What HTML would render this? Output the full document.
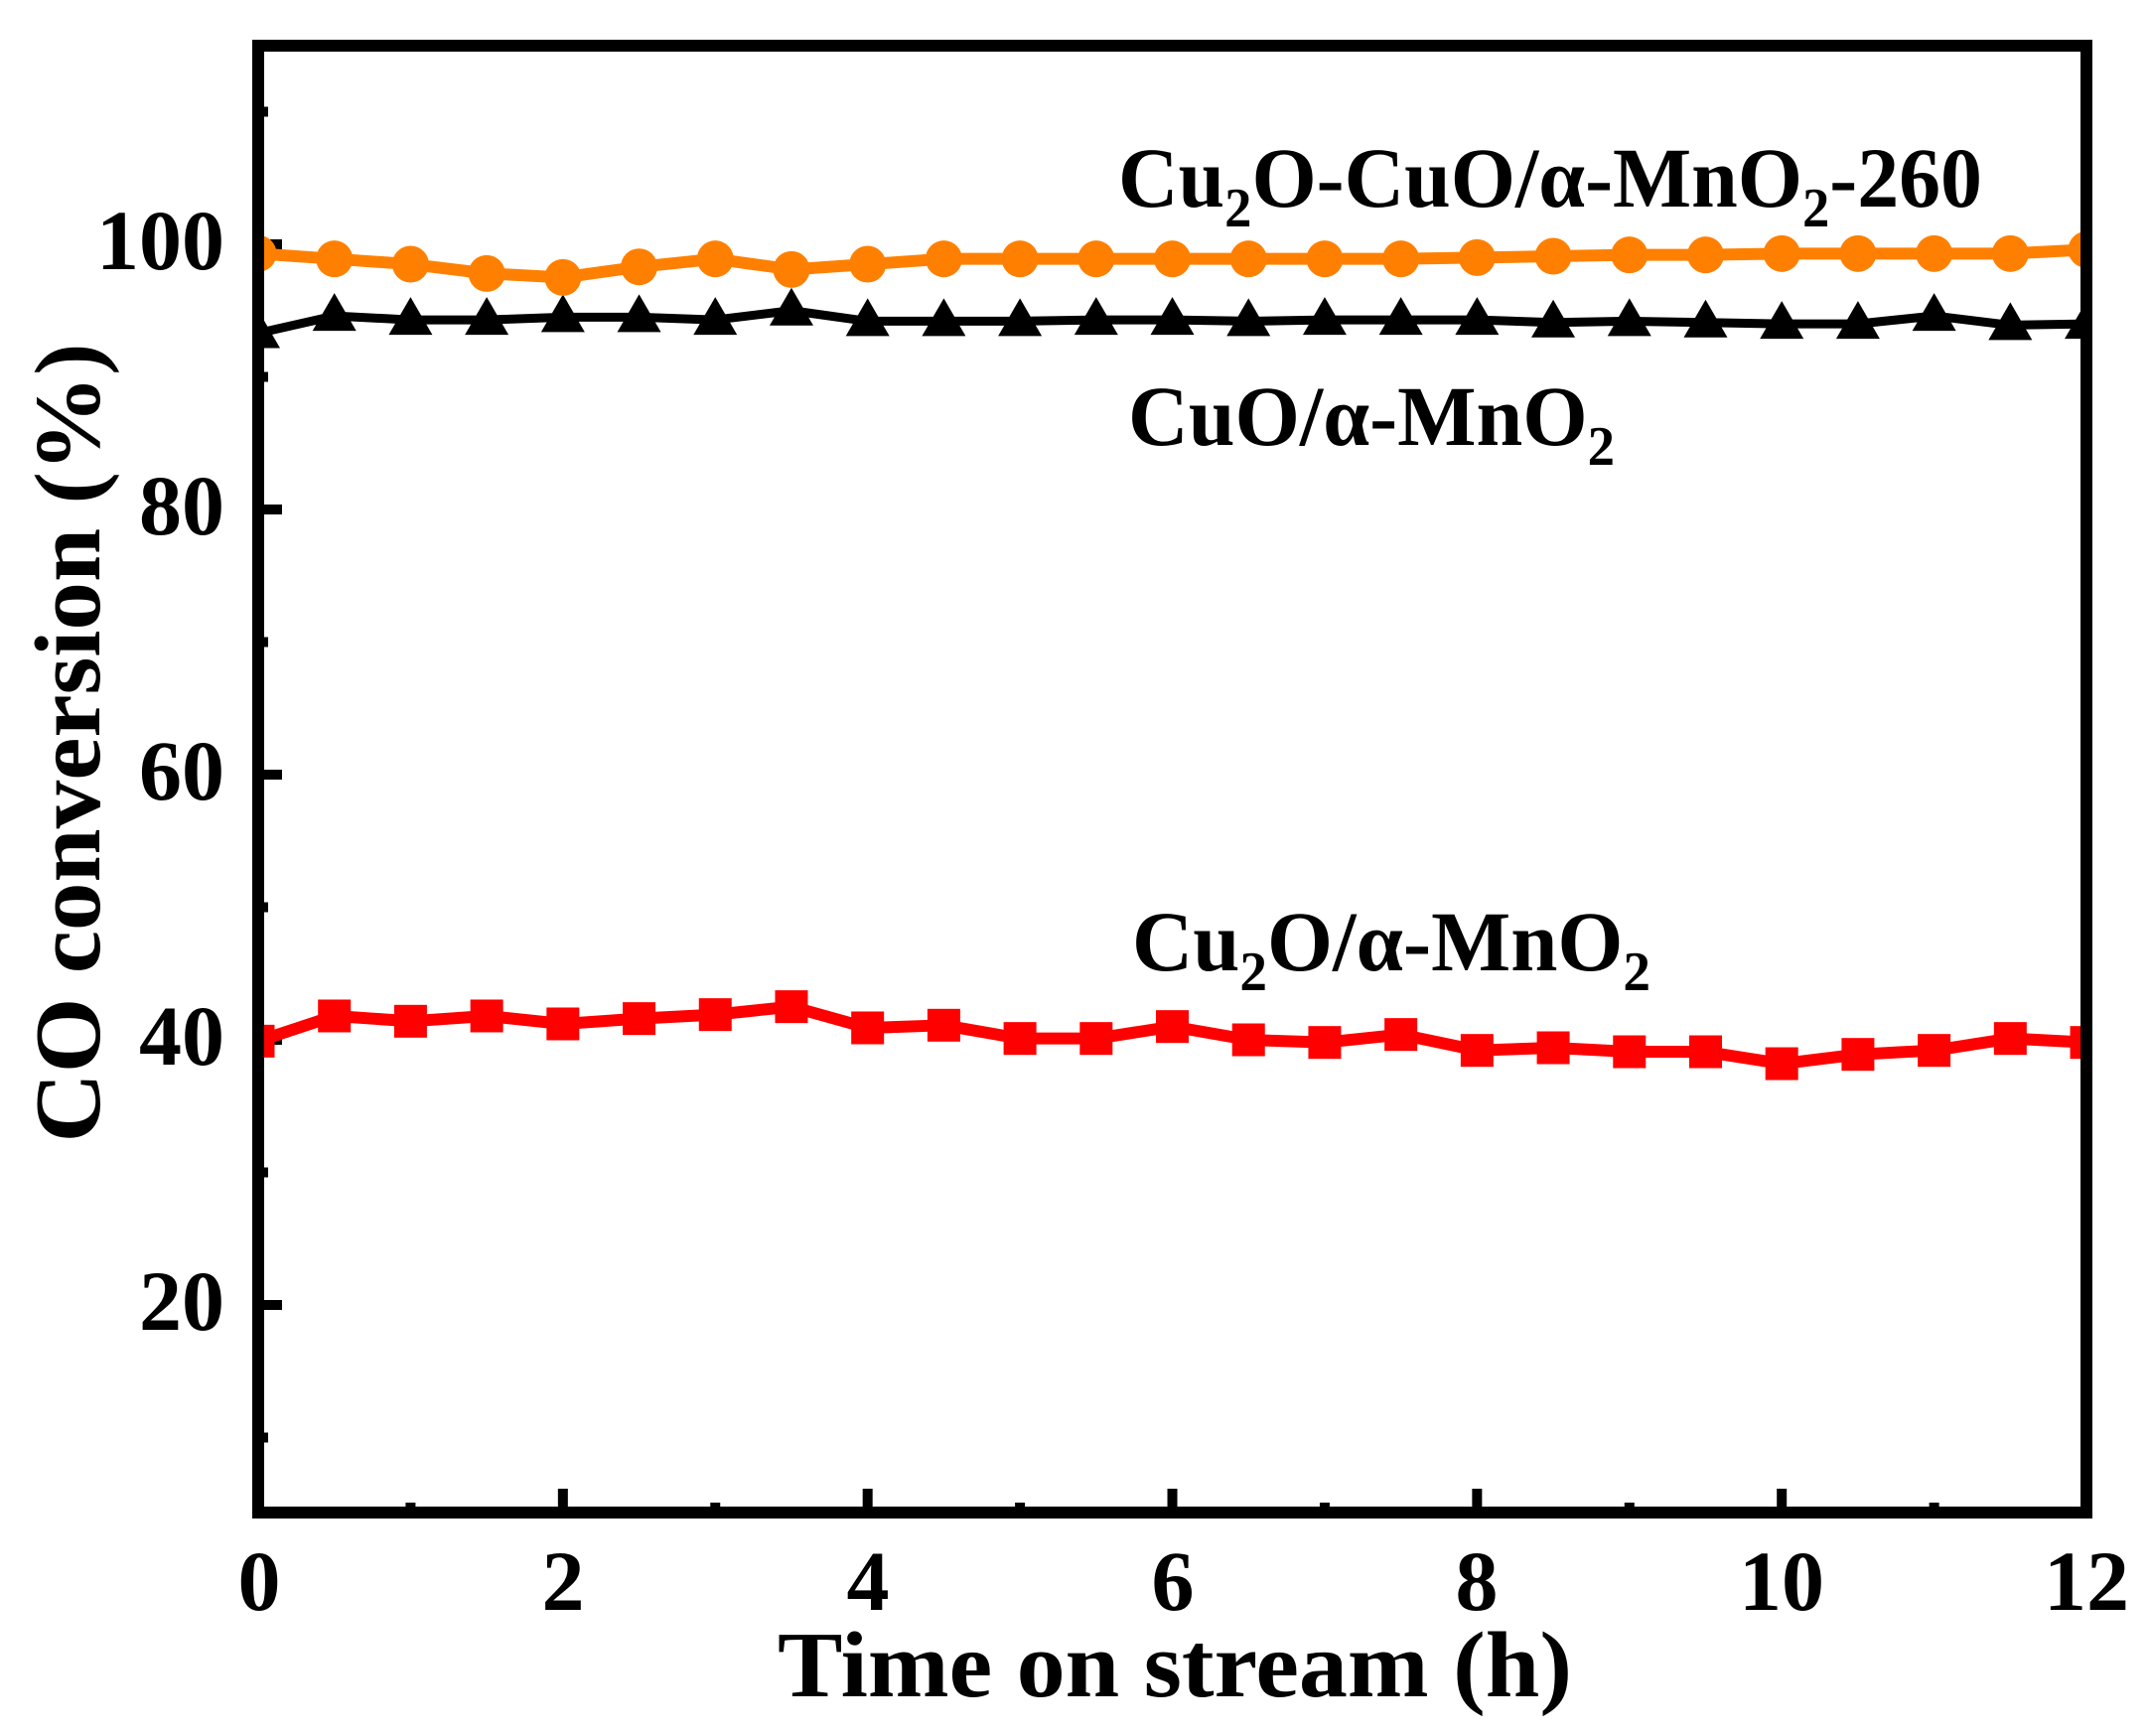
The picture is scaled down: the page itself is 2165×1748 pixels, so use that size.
<!DOCTYPE html>
<html><head><meta charset="utf-8"><style>
html,body{margin:0;padding:0;background:#fff;}
svg{display:block;}
text{font-family:"Liberation Serif",serif;font-weight:bold;fill:#000;}
</style></head><body>
<svg id="s" width="2165" height="1748" viewBox="0 0 2165 1748" xmlns="http://www.w3.org/2000/svg">
<rect x="0" y="0" width="2165" height="1748" fill="#fff"/>
<g id="ticks"></g>
<g id="data"></g>
<rect x="260" y="46" width="1841" height="1477" fill="none" stroke="#000" stroke-width="12"/>
<g font-size="86" text-anchor="end">
<text x="226" y="271">100</text>
<text x="226" y="538">80</text>
<text x="226" y="805">60</text>
<text x="226" y="1072">40</text>
<text x="226" y="1339">20</text>
</g>
<g font-size="86" text-anchor="middle">
<text x="261" y="1621">0</text>
<text x="567" y="1621">2</text>
<text x="874" y="1621">4</text>
<text x="1181" y="1621">6</text>
<text x="1487" y="1621">8</text>
<text x="1794" y="1621">10</text>
<text x="2101" y="1621">12</text>
</g>
<text x="783" y="1708" font-size="94" textLength="800" lengthAdjust="spacingAndGlyphs">Time on stream (h)</text>
<text transform="translate(100,748) rotate(-90)" font-size="94" text-anchor="middle" textLength="805" lengthAdjust="spacingAndGlyphs">CO conversion (%)</text>
<text x="1126" y="208" font-size="86" textLength="870" lengthAdjust="spacingAndGlyphs">Cu<tspan font-size="56" dy="20">2</tspan><tspan dy="-20">O-CuO/α-MnO</tspan><tspan font-size="56" dy="20">2</tspan><tspan dy="-20">-260</tspan></text>
<text x="1136" y="448" font-size="86" textLength="490" lengthAdjust="spacingAndGlyphs">CuO/α-MnO<tspan font-size="56" dy="20">2</tspan></text>
<text x="1140" y="977" font-size="86" textLength="522" lengthAdjust="spacingAndGlyphs">Cu<tspan font-size="56" dy="20">2</tspan><tspan dy="-20">O/α-MnO</tspan><tspan font-size="56" dy="20">2</tspan></text>
</svg>
<script>
var NS="http://www.w3.org/2000/svg";
function X(t){return 260+t*153.42;}
function Y(v){return 1581-v*13.35;}
function el(p,n,a){var e=document.createElementNS(NS,n);for(var k in a)e.setAttribute(k,a[k]);p.appendChild(e);return e;}
var tk=document.getElementById("ticks");
for(var i=1;i<12;i++){var L=(i%2==0)?24:10;el(tk,"line",{x1:X(i),x2:X(i),y1:1523,y2:1523-L,stroke:"#000","stroke-width":10});}
for(var v=10;v<=110;v+=10){var L=(v%20==0)?24:10;el(tk,"line",{x1:260,x2:260+L,y1:Y(v),y2:Y(v),stroke:"#000","stroke-width":10});}
var orange=[99.3,98.9,98.5,97.8,97.5,98.3,98.9,98.1,98.5,98.9,98.9,98.9,98.9,98.9,98.9,98.9,99,99.1,99.2,99.2,99.3,99.3,99.3,99.3,99.6];
var black=[93.3,94.6,94.3,94.3,94.5,94.5,94.3,95,94.2,94.2,94.2,94.3,94.3,94.2,94.3,94.3,94.3,94.1,94.2,94.1,94.0,94.0,94.6,93.9,94.0];
var red=[40.5,42.4,42.0,42.4,41.8,42.2,42.5,43.1,41.5,41.7,40.7,40.7,41.6,40.6,40.4,41.0,39.8,40.0,39.7,39.7,38.8,39.5,39.8,40.7,40.4].map(function(v){return v-0.6;});
var d=document.getElementById("data");
var clip=el(d,"clipPath",{id:"c"});el(clip,"rect",{x:260,y:46,width:1841,height:1477});
var g=el(d,"g",{"clip-path":"url(#c)"});
function line(arr,col,w){el(g,"polyline",{points:arr.map(function(v,i){return X(i*0.5)+","+Y(v);}).join(" "),fill:"none",stroke:col,"stroke-width":w,"stroke-linejoin":"round"});}
line(black,"#000",9);
line(orange,"#ff8000",12);
line(red,"#ff0000",12);
black.forEach(function(v,i){var x=X(i*0.5),y=Y(v);el(g,"polygon",{points:(x-22)+","+(y+15)+" "+(x+22)+","+(y+15)+" "+x+","+(y-23),fill:"#000"});});
orange.forEach(function(v,i){el(g,"circle",{cx:X(i*0.5),cy:Y(v),r:18.5,fill:"#ff8000"});});
red.forEach(function(v,i){el(g,"rect",{x:X(i*0.5)-16.5,y:Y(v)-16.5,width:33,height:33,fill:"#ff0000"});});
</script>
</body></html>
